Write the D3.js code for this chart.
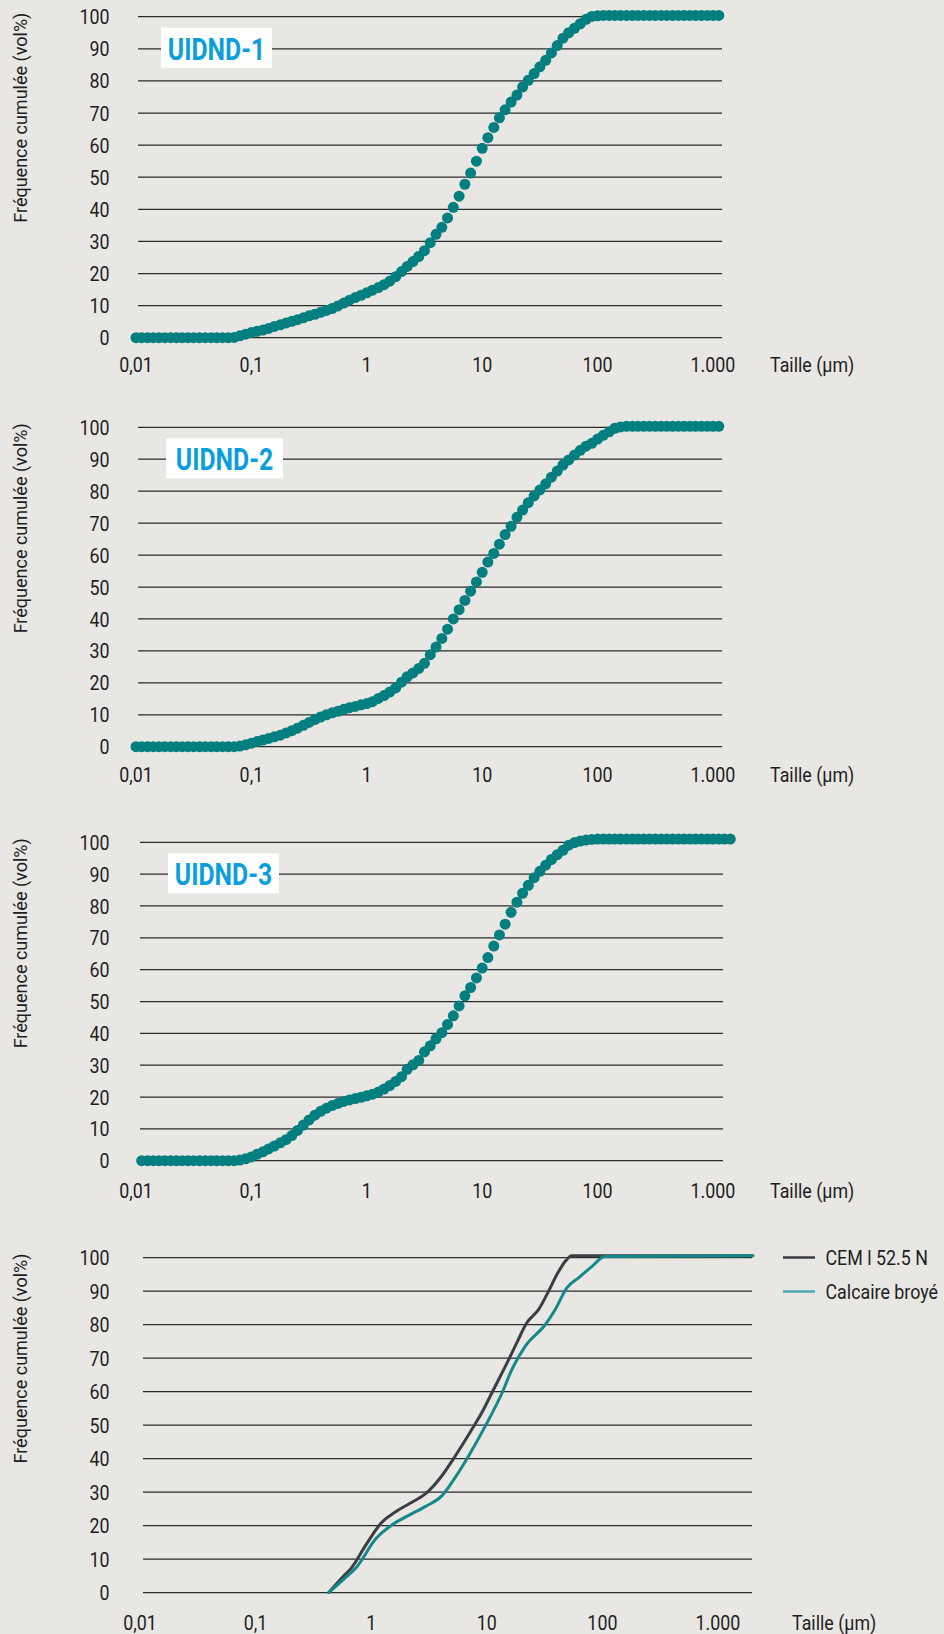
<!DOCTYPE html>
<html><head><meta charset="utf-8">
<script src="https://cdn.jsdelivr.net/npm/d3@7"></script>
<style>
html,body{margin:0;padding:0;background:#e8e7e3;}
svg{display:block;}
text{font-family:Roboto,"Noto Sans",sans-serif;}
</style></head>
<body>
<svg id="c" width="944" height="1634"></svg>
<script>
// ---------- DATA ----------
const sizes = [0.01,0.0112,0.0126,0.0141,0.0158,0.0178,0.02,0.0224,0.0251,0.0282,
0.0316,0.0355,0.0398,0.0447,0.0501,0.0562,0.0631,0.0708,0.0794,0.0891,
0.1,0.112,0.126,0.141,0.158,0.178,0.2,0.224,0.251,0.282,
0.316,0.355,0.398,0.447,0.501,0.562,0.631,0.708,0.794,0.891,
1,1.12,1.26,1.41,1.58,1.78,2,2.24,2.51,2.82,
3.16,3.55,3.98,4.47,5.01,5.62,6.31,7.08,7.94,8.91,
10,11.2,12.6,14.1,15.8,17.8,20,22.4,25.1,28.2,
31.6,35.5,39.8,44.7,50.1,56.2,63.1,70.8,79.4,89.1,
100,112,126,141,158,178,200,224,251,282,
316,355,398,447,501,562,631,708,794,891,
1000,1122,1259,1413];

const uidnd1 = [0,0,0,0,0,0,0,0,0,0,
0,0,0,0,0,0,0,0.1,0.6,1.1,
1.6,2.0,2.4,2.9,3.5,4.0,4.6,5.1,5.6,6.2,
6.8,7.3,7.9,8.5,9.1,9.9,10.8,11.7,12.5,13.2,
14.0,14.8,15.6,16.5,17.6,19.0,20.6,22.2,23.7,25.3,
27.1,29.6,32.2,34.4,37.3,40.6,44.1,47.8,51.3,55.0,
59.0,62.3,65.5,68.5,71.0,73.4,75.6,78.1,80.2,82.3,
84.4,86.4,88.7,91.0,93.3,95.0,96.4,97.8,99.2,100.1,
100.3,100.4,100.4,100.4,100.4,100.4,100.4,100.4,100.4,100.4,
100.4,100.4,100.4,100.4,100.4,100.4,100.4,100.4,100.4,100.4,
100.4,100.4];

const uidnd2 = [0,0,0,0,0,0,0,0,0,0,
0,0,0,0,0,0,0,0,0.2,0.6,
1.1,1.6,2.1,2.6,3.1,3.6,4.3,5.0,5.8,6.7,
7.6,8.5,9.3,10.0,10.6,11.1,11.7,12.2,12.6,13.1,
13.5,14.1,15.1,16.0,17.1,18.4,20.2,21.9,23.1,24.5,
26.1,28.8,31.2,33.9,36.8,40.0,42.9,45.8,48.7,51.6,
54.6,57.8,60.5,63.4,66.4,69.0,71.8,74.1,76.4,78.5,
80.4,82.3,84.4,86.3,88.2,89.8,91.3,92.8,94.1,95.0,
96.3,97.5,98.6,99.7,100.1,100.3,100.3,100.3,100.3,100.3,
100.3,100.3,100.3,100.3,100.3,100.3,100.3,100.3,100.3,100.3,
100.3,100.3];

// UIDND-3 starts at the second size class (0.0112 µm)
const uidnd3 = [0,0,0,0,0,0,0,0,0,0,
0,0,0,0,0,0,0,
0.2,0.6,1.2,2.0,2.8,3.7,4.6,5.6,6.6,7.9,
9.5,11.2,12.8,14.3,15.5,16.5,17.3,18.0,18.6,19.1,
19.5,19.9,20.4,20.9,21.6,22.5,23.6,24.9,26.4,28.7,
30.1,31.5,34.2,36.1,38.3,40.2,42.8,45.5,48.6,51.8,
54.4,57.4,60.5,63.8,67.4,70.9,74.3,78.0,81.2,84.0,
86.5,88.9,90.9,92.8,94.6,96.1,97.5,99.1,99.9,100.4,
100.7,100.9,101.0,101.0,101.0,101.0,101.0,101.0,101.0,101.0,
101.0,101.0,101.0,101.0,101.0,101.0,101.0,101.0,101.0,101.0,
101.0,101.0,101.0,101.0,101.0,101.0];

const cemSize  = [0.43,0.58,0.67,0.90,1.21,1.63,2.27,2.96,4.12,5.37,7.46,9.42,11.1,15.5,18.2,22.2,28.1,34.2,40.4,47.6,54.3,2000];
const cemValue = [0,5.0,7.2,14.2,20.6,24.1,27.0,29.5,35.0,40.9,48.8,54.8,59.7,69.6,74.6,80.5,84.5,89.9,94.9,98.8,100.5,100.5];
const calcSize  = [0.43,0.58,0.74,1.10,1.53,2.13,2.96,4.12,5.37,7.0,9.75,13.6,16.5,21.6,32.1,39.1,49.2,62.1,80.9,105.4,2000];
const calcValue = [0,4.0,7.4,16.1,20.3,23.1,25.7,29.0,34.5,40.9,49.8,59.7,66.6,73.6,80,84.5,90.9,93.9,97.3,100.3,100.5];

const yTicks = [0,10,20,30,40,50,60,70,80,90,100];
const xTicks = [0.01,0.1,1,10,100,1000];
const xTickLabels = ["0,01","0,1","1","10","100","1.000"];
const seriesNames = ["CEM l 52.5 N","Calcaire broyé"];

// ---------- DRAW ----------
const svg = d3.select('#c');
svg.append('rect').attr('width',944).attr('height',1634).attr('fill','#e8e7e3');

const TXT = '#1e1e1e', DOT = '#037f80';

const panels = [
  {top:16.7, bottom:337.7, xr:[136,713], grid:[138,722], label:'UIDND-1', box:[161,272], sz:sizes.slice(0,102), vals:uidnd1, xlab:34, taille:770},
  {top:427.3, bottom:746.7, xr:[136,713], grid:[138,722], label:'UIDND-2', box:[166,283], sz:sizes.slice(0,102), vals:uidnd2, xlab:35, taille:770},
  {top:842.3, bottom:1160.7, xr:[136,713], grid:[140,723], label:'UIDND-3', box:[168,279], sz:sizes.slice(1,104), vals:uidnd3, xlab:37, taille:770},
  {top:1257.5, bottom:1592.5, xr:[140,718], grid:[143,752], label:null, xlab:37.5, taille:792}
];

function scaledText(g, x, y, str, opts){
  const t = g.append('g').attr('transform',`translate(${x},${y}) scale(${opts.sx||0.85},1)`)
    .append('text').attr('text-anchor',opts.anchor||'start')
    .attr('font-size',opts.fs||21).attr('fill',opts.fill||TXT)
    .attr('font-weight',opts.fw||400)
    .text(str);
  if (opts.dy) t.attr('dy',opts.dy);
  return t;
}

panels.forEach((p,i)=>{
  const x = d3.scaleLog().domain([0.01,1000]).range(p.xr);
  const y = d3.scaleLinear().domain([0,100]).range([p.bottom,p.top]);
  const g = svg.append('g');

  // gridlines
  g.selectAll('line.grid').data(yTicks).join('line').attr('class','grid')
    .attr('x1',p.grid[0]).attr('x2',p.grid[1])
    .attr('y1',d=>y(d)).attr('y2',d=>y(d))
    .attr('stroke','#2b2b2b').attr('stroke-width',1.25);

  // y tick labels
  yTicks.forEach(v=>scaledText(g,109.5,y(v),String(v),{anchor:'end',dy:'0.36em'}));

  // x tick labels
  xTicks.forEach((v,j)=>scaledText(g,x(v),p.bottom+p.xlab,xTickLabels[j],{anchor:'middle'}));

  // x title
  scaledText(g,p.taille,p.bottom+p.xlab,'Taille (µm)',{});

  // y title
  g.append('text').attr('transform',`translate(27,${p.top+101}) rotate(-90)`)
    .attr('text-anchor','middle').attr('font-size',18).attr('fill',TXT)
    .text('Fréquence cumulée (vol%)');

  if (p.label){
    const bx = p.box[0], bw = p.box[1]-p.box[0], by = p.top+11;
    g.append('rect').attr('x',bx).attr('y',by).attr('width',bw).attr('height',40).attr('fill','#ffffff');
    scaledText(g,bx+bw/2,by+21,p.label,{anchor:'middle',dy:'0.36em',fs:31,fw:700,sx:0.8,fill:'#0a9fdc'});
    const pts = d3.zip(p.sz,p.vals);
    g.selectAll('circle').data(pts).join('circle')
      .attr('cx',d=>x(d[0])).attr('cy',d=>y(d[1])).attr('r',5.5).attr('fill',DOT);
  } else {
    const line = d3.line().x(d=>x(d[0])).y(d=>y(d[1])).curve(d3.curveMonotoneX);
    const series = [
      {pts:d3.zip(cemSize,cemValue), color:'#3b3e44', leg:'#3b3e44'},
      {pts:d3.zip(calcSize,calcValue), color:'#13898b', leg:'#4aa9ad'}
    ];
    series.forEach((s,j)=>{
      g.append('path').datum(s.pts).attr('d',line).attr('fill','none')
        .attr('stroke',s.color).attr('stroke-width',3).attr('stroke-linecap','round');
      const ly = y(100) + j*34;
      g.append('line').attr('x1',783).attr('x2',815).attr('y1',ly).attr('y2',ly)
        .attr('stroke',s.leg).attr('stroke-width',2.5);
      scaledText(g,825.5,ly,seriesNames[j],{dy:'0.36em'});
    });
  }
});
</script>
</body></html>
